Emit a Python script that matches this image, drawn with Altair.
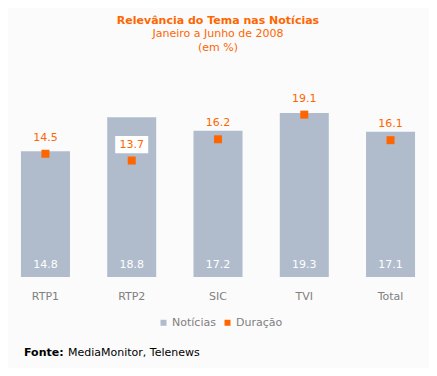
import altair as alt
import pandas as pd

categorias = ["RTP1", "RTP2", "SIC", "TVI", "Total"]
noticias = [14.8, 18.8, 17.2, 19.3, 17.1]
duracao = [14.5, 13.7, 16.2, 19.1, 16.1]

df = pd.DataFrame({"Canal": categorias, "Noticias": noticias, "Duracao": duracao})

FONT = "DejaVu Sans"
ORANGE = "#FF6600"
GREY = "#B0BCCC"

color_scale = alt.Scale(domain=["Notícias", "Duração"], range=[GREY, ORANGE])

xenc = alt.X("Canal:N", sort=categorias, title=None,
             scale=alt.Scale(paddingInner=0.432, paddingOuter=0.15),
             axis=alt.Axis(labelAngle=0, domain=False, ticks=False, labelColor="#808080",
                           labelFontSize=11, labelFont=FONT, labelPadding=13))
ysc = alt.Scale(domain=[0, 20])

base = alt.Chart(df)

bars = base.transform_calculate(serie="'Notícias'").mark_bar().encode(
    x=xenc,
    y=alt.Y("Noticias:Q", scale=ysc, axis=None),
    color=alt.Color("serie:N", scale=color_scale, title=None,
                    legend=alt.Legend(orient="none", legendX=150, legendY=210, direction="horizontal",
                                      symbolType="square", symbolSize=36, labelFont=FONT,
                                      labelFontSize=11, labelColor="#808080", labelOffset=3,
                                      columnPadding=6, symbolStrokeWidth=0)),
)

bar_labels = base.mark_text(font=FONT, fontSize=11, color="white", dy=-12, baseline="middle").encode(
    x=alt.X("Canal:N", sort=categorias),
    y=alt.YDatum(0),
    text=alt.Text("Noticias:Q", format=".1f"),
)

box = base.transform_filter("datum.Duracao + 2.5 < datum.Noticias").mark_point(
    shape="M-1,-0.52H1V0.52H-1Z", filled=True, fill="white", opacity=1, size=1089, strokeWidth=0,
    yOffset=-16).encode(
    x=alt.X("Canal:N", sort=categorias),
    y=alt.Y("Duracao:Q", scale=ysc),
)

points = base.transform_calculate(serie="'Duração'").mark_square(size=64, opacity=1).encode(
    x=alt.X("Canal:N", sort=categorias),
    y=alt.Y("Duracao:Q", scale=ysc),
    color=alt.Color("serie:N", scale=color_scale),
)

point_labels = base.mark_text(font=FONT, fontSize=11, color=ORANGE, dy=-16, baseline="middle").encode(
    x=alt.X("Canal:N", sort=categorias),
    y=alt.Y("Duracao:Q", scale=ysc),
    text=alt.Text("Duracao:Q", format=".1f"),
)

fonte_b = alt.Chart(pd.DataFrame({"t": ["Fonte:"]})).mark_text(
    font=FONT, fontSize=11, fontWeight="bold", color="black", align="left", baseline="middle").encode(
    x=alt.value(16), y=alt.value(246), text="t:N")
fonte_n = alt.Chart(pd.DataFrame({"t": ["MediaMonitor, Telenews"]})).mark_text(
    font=FONT, fontSize=11, color="black", align="left", baseline="middle").encode(
    x=alt.value(60), y=alt.value(246), text="t:N")

chart = alt.layer(bars, bar_labels, box, points, point_labels, fonte_b, fonte_n).properties(
    width=420, height=170,
    padding={"left": 0, "top": 99, "right": 1, "bottom": 91},
    autosize=alt.AutoSizeParams(type="none"),
    background="#FBFBFB",
    title=alt.TitleParams(text="Relevância do Tema nas Notícias",
                          subtitle=["Janeiro a Junho de 2008", "(em %)"],
                          font=FONT, fontSize=11, fontWeight="bold", color=ORANGE,
                          subtitleFont=FONT, subtitleFontSize=11, subtitleColor=ORANGE,
                          subtitlePadding=2, subtitleLineHeight=14,
                          anchor="middle", offset=40),
).configure_view(stroke=None)

chart.save("out.html", embed_options={"renderer": "svg", "actions": False})
